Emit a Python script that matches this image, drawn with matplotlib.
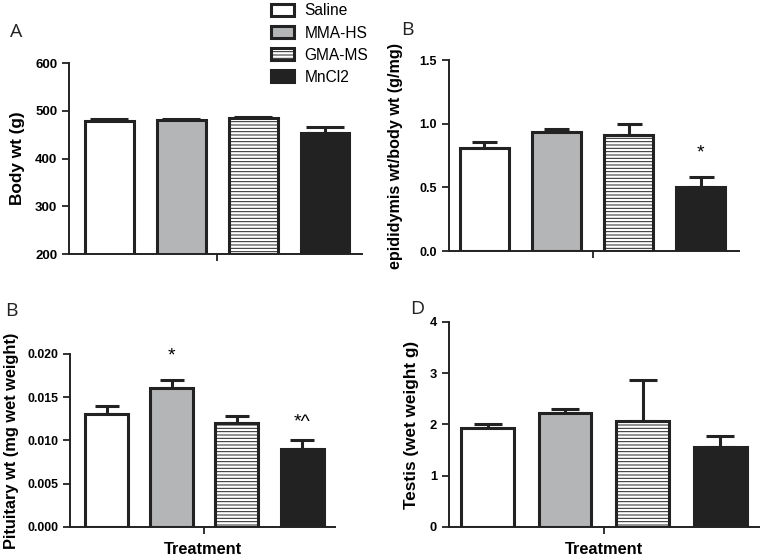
import matplotlib
matplotlib.use("Agg")
import matplotlib.pyplot as plt
from matplotlib.patches import Patch
import numpy as np

plt.rcParams['font.family'] = ['Liberation Sans', 'DejaVu Sans']
plt.rcParams['hatch.linewidth'] = 0.7

groups = ["Saline", "MMA-HS", "GMA-MS", "MnCl2"]
colors = ["white", "#b4b5b7", "white", "#222222"]
hatches = [None, None, "-----", None]

body_wt = [478, 481, 485, 453]
body_err = [5, 3, 2, 13]

epid_wt = [0.81, 0.94, 0.91, 0.50]
epid_err = [0.05, 0.02, 0.09, 0.08]

pit_wt = [0.013, 0.016, 0.012, 0.009]
pit_err = [0.001, 0.001, 0.0008, 0.001]

testis_wt = [1.93, 2.23, 2.07, 1.57]
testis_err = [0.08, 0.08, 0.80, 0.20]

fig = plt.figure(figsize=(7.62, 5.58), dpi=100)


def panel(rect, vals, errs, ylim, yticks, yfmt, ylabel, xlim, width, capsize,
          tfs, lfs, lpad, xlabel=None):
    ax = fig.add_axes(rect)
    x = np.arange(len(vals))
    for i in range(len(vals)):
        ax.bar(x[i], vals[i], width=width, color=colors[i], edgecolor="#222222",
               linewidth=2.2, hatch=hatches[i], zorder=2)
    ax.errorbar(x, vals, yerr=[np.zeros(len(errs)), errs], fmt="none", ecolor="#222222",
                elinewidth=2.2, capsize=capsize, capthick=2.2, zorder=1)
    ax.set_ylim(*ylim)
    ax.set_xlim(*xlim)
    ax.set_yticks(yticks)
    ax.set_yticklabels([yfmt.format(t) for t in yticks], fontweight="bold", fontsize=tfs)
    ax.set_xticks([1.5])
    ax.set_xticklabels([""])
    ax.tick_params(axis="both", width=1.3, length=5, color="#222222")
    for s in ["top", "right"]:
        ax.spines[s].set_visible(False)
    for s in ["left", "bottom"]:
        ax.spines[s].set_linewidth(1.4)
        ax.spines[s].set_color("#222222")
    ax.set_ylabel(ylabel, fontweight="bold", fontsize=lfs, labelpad=lpad)
    if xlabel:
        ax.set_xlabel(xlabel, fontweight="bold", fontsize=11.8, labelpad=2)
    return ax


axA = panel([0.0906, 0.5448, 0.384, 0.342], body_wt, body_err, (200, 600),
            [200, 300, 400, 500, 600], "{:.0f}", "Body wt (g)", (-0.56, 3.51), 0.68, 14,
            9.5, 12.4, 7)

axB = panel([0.589, 0.550, 0.381, 0.342], epid_wt, epid_err, (0, 1.5),
            [0.0, 0.5, 1.0, 1.5], "{:.1f}", "epididymis wt/body wt (g/mg)", (-0.49, 3.53), 0.68, 9,
            9, 11.6, 12)
axB.text(3, 0.77, "*", ha="center", va="center", fontsize=14)

axC = panel([0.092, 0.0556, 0.348, 0.3104], pit_wt, pit_err, (0, 0.020),
            [0.0, 0.005, 0.010, 0.015, 0.020], "{:.3f}", "Pituitary wt (mg wet weight)",
            (-0.56, 3.51), 0.66, 8.5, 8.8, 11.8, 6, xlabel="Treatment")
axC.text(1, 0.0197, "*", ha="center", va="center", fontsize=14)
axC.text(3, 0.0121, "*^", ha="center", va="center", fontsize=14)

axD = panel([0.589, 0.0556, 0.407, 0.3674], testis_wt, testis_err, (0, 4),
            [0, 1, 2, 3, 4], "{:.0f}", "Testis (wet weight g)", (-0.5, 3.5), 0.68, 10,
            9.3, 12.3, 8, xlabel="Treatment")

for lab, x, y in [("A", 0.013, 0.934), ("B", 0.526, 0.937), ("B", 0.007, 0.434), ("D", 0.538, 0.437)]:
    fig.text(x, y, lab, fontsize=14, family="Open Sans", color="#222222")

handles = [Patch(facecolor=colors[i], edgecolor="#222222", linewidth=2.2, hatch=hatches[i])
           for i in range(4)]
fig.legend(handles, groups, loc="upper left", bbox_to_anchor=(0.3556, 0.994), frameon=False,
           fontsize=11.2, handlelength=1.47, handleheight=0.8, labelspacing=0.46,
           handletextpad=0.7, borderpad=0, borderaxespad=0)

fig.savefig("out.png", dpi=100)
